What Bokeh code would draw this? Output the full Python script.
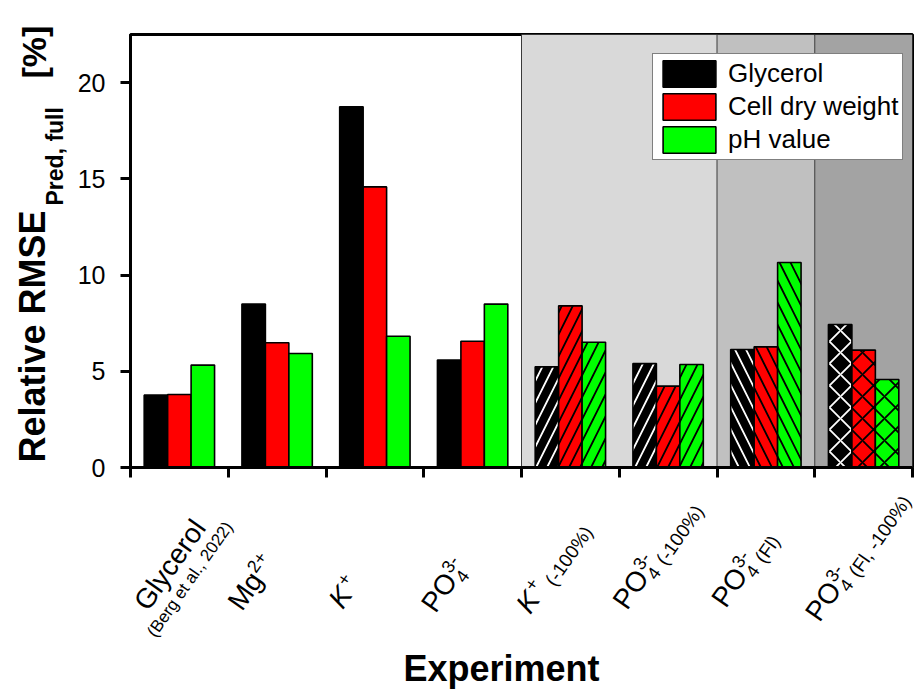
import math
from bokeh.plotting import figure
from bokeh.layouts import row, column
from bokeh.models import (ColumnDataSource, Range1d, FixedTicker, Label, BoxAnnotation,
                          Span, Legend, LegendItem)
from bokeh.transform import dodge
from bokeh.core.properties import field
from bokeh.embed import file_html
from bokeh.resources import INLINE

# ---------------- data ----------------
experiments = ["Glycerol (Berg et al., 2022)", "Mg2+", "K+", "PO4 3-",
               "K+ (-100%)", "PO4 3- (-100%)", "PO4 3- (Fl)", "PO4 3- (Fl, -100%)"]
series_names = ["Glycerol", "Cell dry weight", "pH value"]
glycerol_rmse = [3.76, 8.49, 18.74, 5.58, 5.23, 5.40, 6.13, 7.43]
cdw_rmse = [3.79, 6.48, 14.58, 6.56, 8.40, 4.23, 6.27, 6.10]
ph_rmse = [5.32, 5.92, 6.82, 8.49, 6.51, 5.35, 10.65, 4.57]
hatches = [" ", " ", " ", " ", "/", "/", "\\", "x"]
y_ticks = [0, 5, 10, 15, 20]
band_start = [4, 6, 7]
band_end = [6, 7, 8]
band_colors = ["#d9d9d9", "#c0c0c0", "#a3a3a3"]

FONT = "Liberation Sans"
BASE_SHIFT = 0.35  # observed offset of the text baseline below the label anchor (em)

# ---------------- main plot ----------------
p = figure(width=845, height=485, output_backend="svg", toolbar_location=None,
           x_range=Range1d(0, 8), y_range=Range1d(0, 22.5),
           min_border_left=60, min_border_right=3, min_border_top=34,
           min_border_bottom=18)
p.background_fill_color = "white"
p.border_fill_color = "white"
p.outline_line_color = "black"
p.outline_line_width = 3
p.xgrid.visible = False
p.ygrid.visible = False

for s, e, c in zip(band_start, band_end, band_colors):
    p.add_layout(BoxAnnotation(left=s, right=e, fill_color=c, fill_alpha=1,
                               line_color=None, level="underlay"))
for s in band_start:
    p.add_layout(Span(location=s, dimension="height", line_color="#3a3a3a",
                      line_width=1, level="underlay"))

centers = [i + 0.5 for i in range(len(experiments))]
source = ColumnDataSource(dict(xc=centers, gly=glycerol_rmse, cdw=cdw_rmse,
                               ph=ph_rmse, hatch=hatches))

cols = ["gly", "cdw", "ph"]
fills = ["black", "#ff0000", "#00ff00"]
hatch_cols = ["white", "black", "black"]
offsets = [-0.24, 0.0, 0.24]
renderers = []
for col, fc, hc, off in zip(cols, fills, hatch_cols, offsets):
    r = p.vbar(x=dodge("xc", off, range=p.x_range), top=col, width=0.24,
               fill_color=fc, line_color="black", line_width=1.6,
               hatch_pattern=field("hatch"), hatch_color=hc, hatch_weight=1.8,
               hatch_scale=22, source=source)
    renderers.append(r)

for ax in (p.xaxis[0], p.yaxis[0]):
    ax.axis_line_width = 3
    ax.axis_line_color = "black"
    ax.major_tick_line_width = 3
    ax.major_tick_line_color = "black"
    ax.major_tick_out = 10
    ax.major_tick_in = 0
    ax.minor_tick_line_color = None
    ax.major_label_text_font = FONT
    ax.major_label_text_font_size = "25px"
    ax.major_label_text_color = "black"

p.xaxis.ticker = FixedTicker(ticks=list(range(len(experiments) + 1)))
p.xaxis.major_label_overrides = {i: "" for i in range(len(experiments) + 1)}
p.xaxis.major_label_text_font_size = "0px"
p.xaxis.major_label_standoff = 0
p.yaxis.ticker = FixedTicker(ticks=y_ticks)
p.yaxis.major_label_standoff = 15

legend = Legend(items=[LegendItem(label=n, renderers=[r], index=0)
                       for n, r in zip(series_names, renderers)],
                location=(522, 307), border_line_color="black",
                border_line_width=1.5, background_fill_color="white",
                background_fill_alpha=1, label_text_font=FONT,
                label_text_color="black",
                label_text_font_size="26px", glyph_width=66, glyph_height=33,
                spacing=0, padding=3, margin=0, label_standoff=6)
p.add_layout(legend)


def blank_fig(width, height, x_range, y_range, left=0, right=0):
    f = figure(width=width, height=height, output_backend="svg", toolbar_location=None,
               x_range=x_range, y_range=y_range, x_axis_location=None,
               y_axis_location=None, min_border_left=left, min_border_right=right,
               min_border_top=0, min_border_bottom=0)
    f.outline_line_color = None
    f.background_fill_color = "white"
    f.border_fill_color = "white"
    f.xgrid.visible = False
    f.ygrid.visible = False
    return f


def add_text(fig, x, y, sx, sy_up, text, size, style="normal", angle=0.0, align="left"):
    """sx, sy_up: wanted baseline anchor offset in px (y up). Corrects the baseline shift."""
    c = BASE_SHIFT * size
    xo = sx - c * math.sin(angle)
    yo = sy_up + c * math.cos(angle)
    fig.add_layout(Label(x=x, y=y, x_offset=xo, y_offset=yo, text=text, angle=angle,
                         text_font=FONT, text_font_size=f"{size}px",
                         text_font_style=style, text_color="black",
                         text_align=align, text_baseline="alphabetic"))


# ---------------- left strip: y-axis title ----------------
left = blank_fig(70, 691, Range1d(-130, -60), Range1d(-224, 467))
add_text(left, 0, 0, -85, 5, "Relative RMSE", 36, "bold", math.pi / 2)
add_text(left, 0, 0, -67, 262, "Pred, full", 23, "bold", math.pi / 2)
add_text(left, 0, 0, -85, 389, "[%]", 34, "bold", math.pi / 2)

# ---------------- bottom strip: category labels and x title ----------------
bottom = blank_fig(845, 206, p.x_range, Range1d(-224, -18), left=60, right=3)
add_text(bottom, 4, 0, -20, -214, "Experiment", 36, "bold", 0.0, "center")

label_starts = [(-31, 145), (-35, 145), (-32, 143), (-37, 147),
                (-40, 148), (-41, 144), (-40, 142), (-44, 156)]
label_pieces = [
    [("Glycerol", 28, "normal", 0, 0), ("(Berg et al., 2022)", 17, "normal", -17, -21)],
    [("Mg", 28, "normal", 0, 0), ("2+", 18, "normal", 39.5, 11)],
    [("K", 28, "italic", 0, 0), ("+", 18, "normal", 21, 11)],
    [("PO", 28, "normal", 0, 0), ("3-", 18, "normal", 41.5, 11), ("4", 18, "normal", 41.5, -6)],
    [("K", 28, "italic", 0, 0), ("+", 18, "normal", 21, 11), ("(-100%)", 19, "normal", 37, -4)],
    [("PO", 28, "normal", 0, 0), ("3-", 18, "normal", 41.5, 11), ("4", 18, "normal", 41.5, -6),
     ("(-100%)", 19, "normal", 59, -6)],
    [("PO", 28, "normal", 0, 0), ("3-", 18, "normal", 41.5, 11), ("4", 18, "normal", 41.5, -6),
     ("(Fl)", 19, "normal", 59, -6)],
    [("PO", 28, "normal", 0, 0), ("3-", 18, "normal", 41.5, 11), ("4", 18, "normal", 41.5, -6),
     ("(Fl, -100%)", 19, "normal", 59, -6)],
]
a = math.radians(55)
ux, uy = math.cos(a), math.sin(a)      # along text, y up
vx, vy = -math.sin(a), math.cos(a)     # text "up", y up
for xc, (dx, dy), pieces in zip(centers, label_starts, label_pieces):
    for txt, size, style, s, t in pieces:
        px = dx + s * ux + t * vx
        py = -dy + s * uy + t * vy
        add_text(bottom, xc, 0, px, py, txt, size, style, a)

layout = row(left, column(p, bottom, spacing=0), spacing=0)
open("out.html", "w").write(file_html(layout, INLINE))
